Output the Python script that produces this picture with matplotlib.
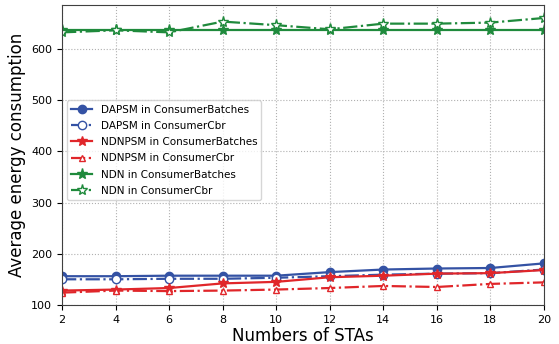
import matplotlib
matplotlib.use("Agg")
import matplotlib.pyplot as plt

# number of stations on the x axis
stas = [2, 4, 6, 8, 10, 12, 14, 16, 18, 20]

# average energy consumption per scheme / consumer type
dapsm_batches = [157, 157, 158, 158, 158, 165, 170, 172, 173, 182]
dapsm_cbr = [151, 151, 152, 152, 154, 157, 160, 162, 163, 170]
ndnpsm_batches = [129, 131, 134, 143, 146, 155, 158, 162, 163, 169]
ndnpsm_cbr = [125, 129, 128, 129, 131, 134, 138, 136, 142, 145]
ndn_batches = [636, 636, 636, 636, 636, 636, 636, 636, 636, 636]
ndn_cbr = [632, 636, 632, 653, 646, 638, 649, 649, 651, 660]

blue = '#3452a4'
red = '#e0262a'
green = '#1f8a3c'

fig, ax = plt.subplots(figsize=(5.59, 3.44), dpi=100)
fig.subplots_adjust(left=0.111, right=0.973, top=0.985, bottom=0.112)

ax.plot(stas, dapsm_batches, '-', color=blue, marker='o', markersize=6, lw=1.6,
        label='DAPSM in ConsumerBatches')
ax.plot(stas, dapsm_cbr, '-.', color=blue, marker='o', markersize=6, lw=1.6,
        markerfacecolor='white', label='DAPSM in ConsumerCbr')
ax.plot(stas, ndnpsm_batches, '-', color=red, marker='*', markersize=7, lw=1.6,
        label='NDNPSM in ConsumerBatches')
ax.plot(stas, ndnpsm_cbr, '-.', color=red, marker='^', markersize=5, lw=1.6,
        markerfacecolor='white', label='NDNPSM in ConsumerCbr')
ax.plot(stas, ndn_batches, '-', color=green, marker='*', markersize=8, lw=1.6,
        label='NDN in ConsumerBatches')
ax.plot(stas, ndn_cbr, '-.', color=green, marker='*', markersize=8, lw=1.6,
        markerfacecolor='white', label='NDN in ConsumerCbr')

ax.set_xlim(2, 20)
ax.set_ylim(100, 685)
ax.set_xticks(stas)
ax.set_yticks([100, 200, 300, 400, 500, 600])
ax.tick_params(labelsize=8)
for s in ax.spines.values():
    s.set_color('#404040')
ax.grid(True, linestyle=':', color='#b0b0b0')
ax.set_xlabel('Numbers of STAs', fontsize=12, labelpad=1)
ax.set_ylabel('Average energy consumption', fontsize=12, labelpad=4)
ax.legend(loc='upper left', bbox_to_anchor=(0.0, 0.70), fontsize=7.5,
          framealpha=0.8, handlelength=2.0, labelspacing=0.6)

plt.savefig('out.png', dpi=100)
